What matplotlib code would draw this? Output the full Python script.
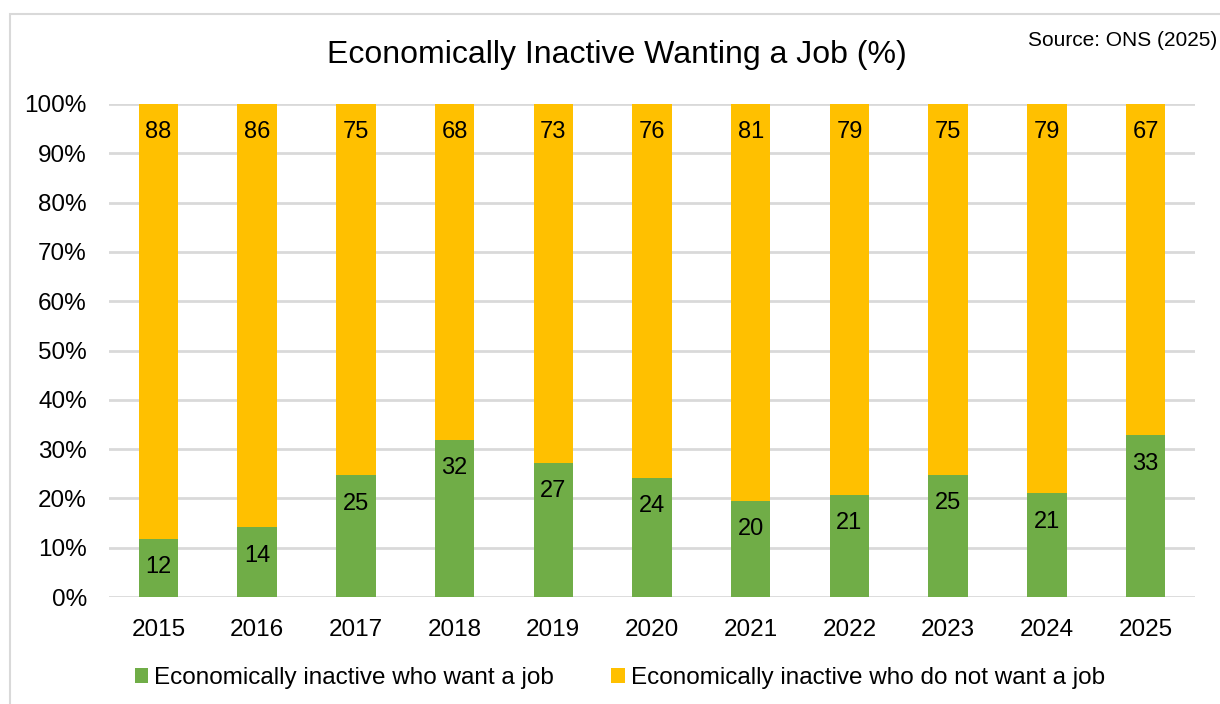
import matplotlib
matplotlib.use("Agg")
import matplotlib.pyplot as plt
from matplotlib.patches import Rectangle, Patch

plt.rcParams['font.family'] = ['Liberation Sans', 'DejaVu Sans']

years = ['2015', '2016', '2017', '2018', '2019', '2020', '2021', '2022', '2023', '2024', '2025']
want = [11.8, 14.1, 24.7, 31.9, 27.2, 24.2, 19.5, 20.7, 24.8, 21.0, 32.8]
not_want = [88.2, 85.9, 75.3, 68.1, 72.8, 75.8, 80.5, 79.3, 75.2, 79.0, 67.2]
want_labels = ['12', '14', '25', '32', '27', '24', '20', '21', '25', '21', '33']
not_want_labels = ['88', '86', '75', '68', '73', '76', '81', '79', '75', '79', '67']
yticks = [0, 10, 20, 30, 40, 50, 60, 70, 80, 90, 100]

GREEN = '#70AD47'
YELLOW = '#FFC000'
GRID = '#D9D9D9'

W, H = 1220, 704
fig = plt.figure(figsize=(W / 100, H / 100), dpi=100)
fig.patch.set_facecolor('white')

# chart border (bottom and right edges fall outside the image)
fig.patches.append(Rectangle((10 / W, -0.2), 1.2, 1.2 - 14 / H, transform=fig.transFigure,
                             fill=False, edgecolor='#D9D9D9', linewidth=1.5))

ax = fig.add_axes([109 / W, 1 - 597 / H, (1195 - 109) / W, (597 - 104) / H])
x = list(range(len(years)))
ax.bar(x, want, width=0.4, color=GREEN, zorder=3)
ax.bar(x, not_want, width=0.4, bottom=want, color=YELLOW, zorder=3)

for i in x:
    ax.annotate(want_labels[i], (i, want[i]), xytext=(0, -20.5), textcoords='offset points',
                ha='center', va='center', fontsize=17, color='black', zorder=4)
    ax.annotate(not_want_labels[i], (i, want[i] + not_want[i]), xytext=(0, -20.5),
                textcoords='offset points', ha='center', va='center', fontsize=17,
                color='black', zorder=4)

ax.set_xlim(-0.5, len(years) - 0.5)
ax.set_ylim(0, 100)
ax.set_yticks(yticks)
ax.set_yticklabels([f'{v}%' for v in yticks])
ax.set_xticks(x)
ax.set_xticklabels(years)
ax.tick_params(axis='both', length=0, labelsize=17.5, colors='black')
ax.tick_params(axis='y', pad=16)
ax.tick_params(axis='x', pad=16)
for s in ax.spines.values():
    s.set_visible(False)
ax.grid(axis='y', color=GRID, linewidth=2, zorder=0)
ax.set_axisbelow(True)

fig.text(617 / W, 1 - 55 / H, 'Economically Inactive Wanting a Job (%)', ha='center', va='center',
         fontsize=23, color='black')
fig.text(1217 / W, 1 - 41 / H, 'Source: ONS (2025)', ha='right', va='center',
         fontsize=15, color='black')

handles = [Patch(facecolor=GREEN, edgecolor='none'), Patch(facecolor=YELLOW, edgecolor='none')]
fig.legend(handles, ['Economically inactive who want a job', 'Economically inactive who do not want a job'],
           loc='center', bbox_to_anchor=(620 / W, 1 - 678 / H), ncol=2, frameon=False,
           fontsize=17.5, handlelength=0.55, handleheight=0.55, handletextpad=0.25,
           columnspacing=2.35, borderaxespad=0)

fig.savefig('out.png', dpi=100)
